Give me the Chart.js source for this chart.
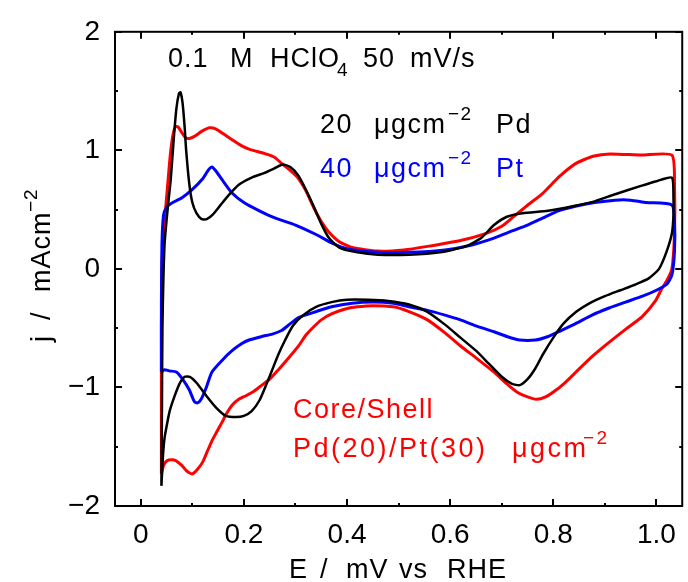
<!DOCTYPE html>
<html>
<head>
<meta charset="utf-8">
<script src="https://cdn.jsdelivr.net/npm/chart.js@4.4.1/dist/chart.umd.min.js"></script>
<style>
  html, body { margin: 0; padding: 0; background: #fff; }
  canvas { display: block; }
</style>
</head>
<body>
<canvas id="cv" width="688" height="582"></canvas>
<script>
// cyclic voltammograms, 0.1 M HClO4, 50 mV/s
// each loop: anodic sweep from 0.04 V up to 1.03 V, then cathodic back

const pdE = [0.040, 0.041, 0.042, 0.046, 0.052, 0.058, 0.064, 0.069, 0.074, 0.077, 0.081, 0.085, 0.088, 0.094, 0.100, 0.108, 0.118, 0.128, 0.140, 0.155, 0.170, 0.190, 0.215, 0.240, 0.260, 0.275, 0.290, 0.305, 0.320, 0.335, 0.350, 0.365, 0.385, 0.420, 0.460, 0.520, 0.580, 0.630, 0.660, 0.685, 0.710, 0.740, 0.790, 0.840, 0.880, 0.920, 0.970, 1.000, 1.030, 1.033, 1.033, 1.030, 1.020, 1.005, 0.985, 0.960, 0.930, 0.900, 0.870, 0.845, 0.820, 0.800, 0.780, 0.765, 0.750, 0.735, 0.720, 0.700, 0.675, 0.650, 0.620, 0.590, 0.555, 0.520, 0.480, 0.440, 0.400, 0.370, 0.340, 0.315, 0.295, 0.280, 0.267, 0.255, 0.243, 0.230, 0.215, 0.200, 0.185, 0.165, 0.146, 0.127, 0.108, 0.095, 0.085, 0.075, 0.065, 0.056, 0.050, 0.046, 0.043, 0.040];
const pdJ = [-1.83, -1.20, -0.50, 0.20, 0.50, 0.75, 1.10, 1.35, 1.48, 1.49, 1.40, 1.20, 1.00, 0.72, 0.56, 0.47, 0.42, 0.42, 0.46, 0.54, 0.62, 0.71, 0.77, 0.81, 0.85, 0.88, 0.86, 0.79, 0.67, 0.53, 0.38, 0.26, 0.18, 0.14, 0.12, 0.12, 0.14, 0.19, 0.26, 0.37, 0.44, 0.47, 0.49, 0.53, 0.57, 0.63, 0.70, 0.74, 0.77, 0.60, 0.45, 0.30, 0.15, 0.00, -0.08, -0.13, -0.18, -0.23, -0.29, -0.36, -0.46, -0.58, -0.72, -0.84, -0.93, -0.98, -0.97, -0.91, -0.80, -0.69, -0.58, -0.47, -0.36, -0.30, -0.27, -0.26, -0.26, -0.28, -0.32, -0.39, -0.48, -0.60, -0.72, -0.85, -0.98, -1.11, -1.20, -1.24, -1.25, -1.24, -1.17, -1.07, -0.96, -0.91, -0.91, -0.97, -1.08, -1.20, -1.33, -1.43, -1.58, -1.83];

const ptE = [0.040, 0.040, 0.041, 0.044, 0.050, 0.062, 0.080, 0.100, 0.120, 0.132, 0.138, 0.145, 0.158, 0.177, 0.200, 0.230, 0.260, 0.300, 0.340, 0.370, 0.400, 0.460, 0.520, 0.590, 0.640, 0.685, 0.720, 0.750, 0.780, 0.810, 0.845, 0.880, 0.920, 0.950, 0.980, 1.030, 1.035, 1.035, 1.030, 1.020, 1.000, 0.973, 0.940, 0.908, 0.875, 0.844, 0.815, 0.790, 0.765, 0.735, 0.710, 0.685, 0.650, 0.620, 0.590, 0.556, 0.520, 0.490, 0.450, 0.410, 0.370, 0.340, 0.306, 0.285, 0.273, 0.255, 0.235, 0.210, 0.196, 0.177, 0.158, 0.138, 0.127, 0.117, 0.110, 0.104, 0.094, 0.081, 0.069, 0.055, 0.046, 0.040];
const ptJ = [-0.87, -0.30, 0.20, 0.45, 0.52, 0.56, 0.60, 0.67, 0.76, 0.84, 0.86, 0.83, 0.75, 0.64, 0.56, 0.49, 0.43, 0.37, 0.29, 0.22, 0.17, 0.14, 0.14, 0.16, 0.20, 0.26, 0.32, 0.37, 0.43, 0.49, 0.53, 0.56, 0.58, 0.58, 0.56, 0.54, 0.40, 0.15, -0.05, -0.13, -0.18, -0.23, -0.28, -0.33, -0.39, -0.46, -0.52, -0.57, -0.60, -0.60, -0.57, -0.53, -0.48, -0.43, -0.39, -0.35, -0.32, -0.29, -0.28, -0.29, -0.32, -0.36, -0.41, -0.48, -0.52, -0.55, -0.57, -0.60, -0.63, -0.69, -0.77, -0.87, -1.00, -1.10, -1.13, -1.12, -1.02, -0.93, -0.87, -0.86, -0.85, -0.87];

const csE = [0.040, 0.040, 0.041, 0.044, 0.048, 0.052, 0.057, 0.062, 0.067, 0.072, 0.078, 0.086, 0.094, 0.105, 0.118, 0.133, 0.146, 0.160, 0.177, 0.195, 0.210, 0.242, 0.260, 0.273, 0.290, 0.306, 0.320, 0.335, 0.350, 0.365, 0.385, 0.410, 0.460, 0.510, 0.556, 0.620, 0.670, 0.700, 0.720, 0.748, 0.780, 0.812, 0.844, 0.877, 0.910, 0.970, 1.030, 1.035, 1.035, 1.030, 1.020, 1.010, 0.998, 0.973, 0.940, 0.908, 0.875, 0.844, 0.825, 0.806, 0.785, 0.767, 0.750, 0.730, 0.710, 0.685, 0.650, 0.620, 0.590, 0.556, 0.520, 0.490, 0.450, 0.420, 0.395, 0.370, 0.350, 0.335, 0.320, 0.306, 0.287, 0.267, 0.250, 0.235, 0.220, 0.204, 0.190, 0.177, 0.165, 0.158, 0.148, 0.138, 0.128, 0.120, 0.110, 0.100, 0.094, 0.088, 0.080, 0.069, 0.060, 0.050, 0.044, 0.040];
const csJ = [-1.73, -0.50, 0.00, 0.30, 0.50, 0.70, 0.95, 1.12, 1.20, 1.20, 1.16, 1.11, 1.10, 1.12, 1.16, 1.19, 1.18, 1.14, 1.09, 1.04, 1.01, 0.97, 0.94, 0.89, 0.83, 0.76, 0.66, 0.52, 0.40, 0.31, 0.23, 0.18, 0.15, 0.16, 0.19, 0.24, 0.30, 0.36, 0.43, 0.53, 0.64, 0.78, 0.89, 0.95, 0.97, 0.96, 0.96, 0.70, 0.30, 0.00, -0.10, -0.17, -0.27, -0.40, -0.51, -0.62, -0.74, -0.87, -0.95, -1.02, -1.08, -1.10, -1.08, -1.04, -0.97, -0.87, -0.75, -0.65, -0.54, -0.43, -0.36, -0.32, -0.31, -0.32, -0.34, -0.38, -0.43, -0.49, -0.56, -0.65, -0.75, -0.85, -0.93, -0.98, -1.03, -1.07, -1.10, -1.15, -1.23, -1.29, -1.37, -1.45, -1.55, -1.63, -1.69, -1.73, -1.72, -1.70, -1.66, -1.62, -1.61, -1.62, -1.66, -1.73];

const xTicks = [0, 0.2, 0.4, 0.6, 0.8, 1.0];
const xTickLabels = ['0', '0.2', '0.4', '0.6', '0.8', '1.0'];
const xMinor = [0.1, 0.3, 0.5, 0.7, 0.9];
const yTicks = [-2, -1, 0, 1, 2];
const yTickLabels = ['\u22122', '\u22121', '0', '1', '2'];
const yMinor = [-1.5, -0.5, 0.5, 1.5];

const FONT = 'Liberation Sans';
const RED = '#ff0000';
const BLUE = '#0000ff';

const toPoints = (xs, ys) => xs.map((x, i) => ({ x: x, y: ys[i] }));

// text runs: [text, x, kind]; kind 'sub'/'sup' is set smaller and shifted
function drawRuns(ctx, runs, y, color, spacing) {
  ctx.fillStyle = color;
  ctx.textBaseline = 'alphabetic';
  ctx.textAlign = 'left';
  ctx.letterSpacing = (spacing || 1) + 'px';
  runs.forEach(r => {
    const small = r[2] === 'sub' || r[2] === 'sup';
    ctx.font = (small ? 19 : 27) + 'px "' + FONT + '"';
    const dy = r[2] === 'sub' ? 9 : (r[2] === 'sup' ? -13 : 0);
    ctx.fillText(r[0], r[1], y + dy);
  });
  ctx.letterSpacing = '0px';
}

const frame = {
  id: 'frame',
  afterDatasetsDraw(chart) {
    const ctx = chart.ctx;
    const a = chart.chartArea;
    const xs = chart.scales.x;
    const ys = chart.scales.y;
    ctx.save();
    ctx.strokeStyle = '#000';
    ctx.lineWidth = 2;
    ctx.strokeRect(a.left, a.top, a.right - a.left, a.bottom - a.top);

    // ticks point inwards on all four sides
    ctx.beginPath();
    const xTick = (v, len) => {
      const px = Math.round(xs.getPixelForValue(v));
      ctx.moveTo(px, a.bottom); ctx.lineTo(px, a.bottom - len);
      ctx.moveTo(px, a.top); ctx.lineTo(px, a.top + len);
    };
    const yTick = (v, len) => {
      const py = Math.round(ys.getPixelForValue(v));
      ctx.moveTo(a.left, py); ctx.lineTo(a.left + len, py);
      ctx.moveTo(a.right, py); ctx.lineTo(a.right - len, py);
    };
    xTicks.forEach(v => xTick(v, 7));
    xMinor.forEach(v => xTick(v, 3));
    yTicks.forEach(v => yTick(v, 7));
    yMinor.forEach(v => yTick(v, 3));
    ctx.stroke();
    ctx.restore();
  },
  afterDraw(chart) {
    const ctx = chart.ctx;
    ctx.save();
    drawRuns(ctx, [['0.1', 168], ['M', 230], ['HClO', 270], ['4', 337, 'sub'], ['50', 363], ['mV/s', 410]], 67, '#000', 1);
    drawRuns(ctx, [['20', 320], ['\u03bcgcm', 374], ['\u22122', 448, 'sup'], ['Pd', 496]], 133, '#000', 1.5);
    drawRuns(ctx, [['40', 320], ['\u03bcgcm', 374], ['\u22122', 448, 'sup'], ['Pt', 496]], 177, BLUE, 1.5);
    drawRuns(ctx, [['Core/Shell', 293]], 418, RED, 1.5);
    drawRuns(ctx, [['Pd(20)/Pt(30)', 293], ['\u03bcgcm', 512], ['\u22122', 583, 'sup']], 457, RED, 2.5);

    // axis titles
    drawRuns(ctx, [['E', 289], ['/', 320], ['mV', 346], ['vs', 399], ['RHE', 447]], 578, '#000', 1);
    ctx.translate(50, 342);
    ctx.rotate(-Math.PI / 2);
    drawRuns(ctx, [['j', 0], ['/', 22], ['mAcm', 50], ['\u22122', 130, 'sup']], 0, '#000', 1);
    ctx.restore();
  }
};

const line = (data, color, width) => ({
  data: data,
  borderColor: color,
  borderWidth: width,
  showLine: true,
  pointRadius: 0,
  tension: 0.2,
  fill: false
});

new Chart(document.getElementById('cv'), {
  type: 'scatter',
  data: {
    datasets: [
      line(toPoints(pdE, pdJ), '#000000', 2.5),
      line(toPoints(ptE, ptJ), BLUE, 3),
      line(toPoints(csE, csJ), RED, 3)
    ]
  },
  options: {
    responsive: false,
    animation: false,
    layout: { padding: { left: 0, right: 2, top: 23, bottom: 0 } },
    plugins: { legend: { display: false }, tooltip: { enabled: false } },
    scales: {
      x: {
        type: 'linear',
        min: -0.05,
        max: 1.05,
        grid: { display: false, drawTicks: false },
        border: { display: false },
        afterBuildTicks: s => { s.ticks = xTicks.map(v => ({ value: v })); },
        afterFit: s => { s.height = 76; },
        ticks: {
          color: '#000',
          padding: 12,
          maxRotation: 0,
          font: { family: FONT, size: 28 },
          callback: (v) => xTickLabels[xTicks.indexOf(v)]
        }
      },
      y: {
        type: 'linear',
        min: -2,
        max: 2,
        grid: { display: false, drawTicks: false },
        border: { display: false },
        afterBuildTicks: s => { s.ticks = yTicks.map(v => ({ value: v })); },
        afterFit: s => { s.width = 115; },
        ticks: {
          color: '#000',
          padding: 15,
          font: { family: FONT, size: 28 },
          callback: (v) => yTickLabels[yTicks.indexOf(v)]
        }
      }
    }
  },
  plugins: [frame]
});
</script>
</body>
</html>
